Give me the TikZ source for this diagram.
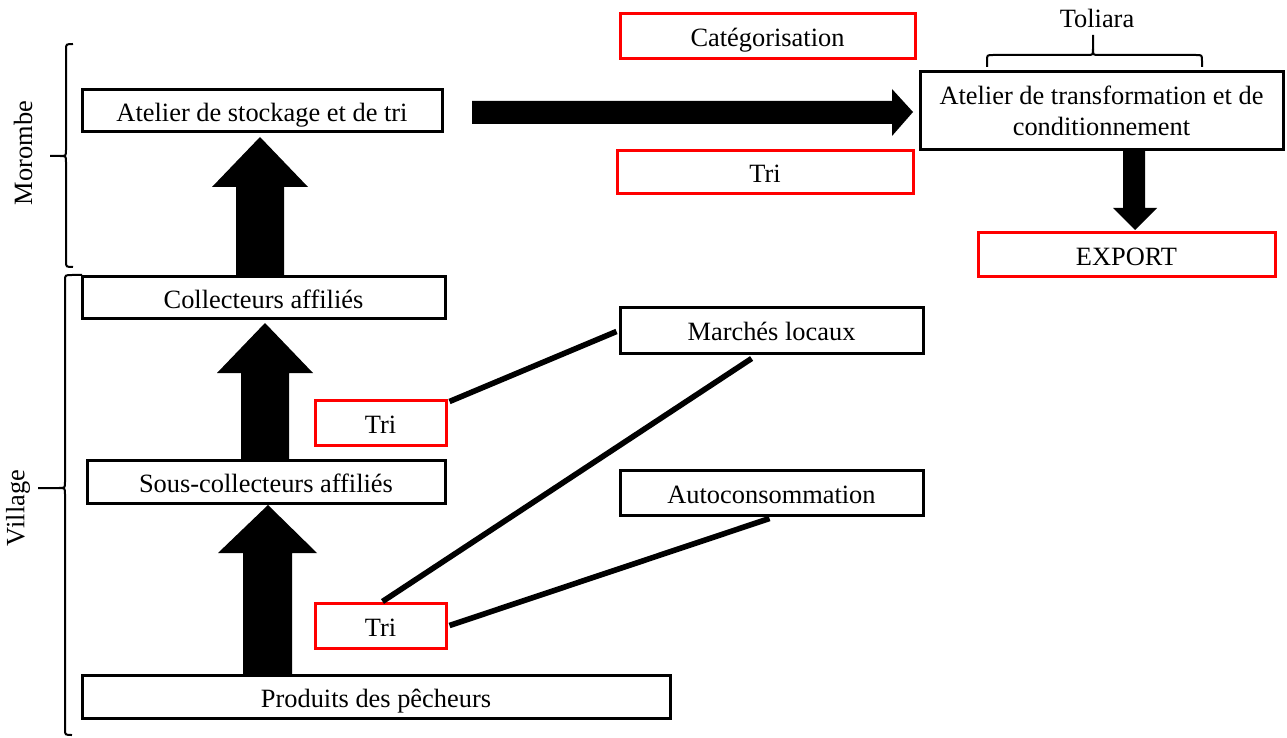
\documentclass[tikz,border=0pt]{standalone}
\usepackage{fontspec}
\setmainfont{Liberation Serif}
\usetikzlibrary{calc}
\begin{document}
\begin{tikzpicture}[x=0.5pt,y=-0.5pt,
  box/.style={draw=black,line width=1.5pt,rectangle,inner sep=0pt,font=\fontsize{13.2}{15.5}\selectfont,align=center,text height=11pt,text depth=0.5pt},
  redbox/.style={box,draw=red},
  conn/.style={line width=2.8pt},
  brk/.style={line width=1pt},
  lbl/.style={font=\fontsize{13.2}{15.5}\selectfont},
  blk/.style={fill=black}]
\useasboundingbox (0,0) rectangle (1287,738);
% boxes
\node[box,minimum width=180pt,minimum height=21pt] (stock) at (262,111) {Atelier de stockage et de tri};
\node[box,minimum width=181.5pt,minimum height=20.5pt] (coll) at (263.5,297.5) {Collecteurs affiliés};
\node[box,minimum width=179pt,minimum height=21.5pt] (sous) at (266,481.5) {Sous-collecteurs affiliés};
\node[box,minimum width=294pt,minimum height=21.5pt] (prod) at (376,696.5) {Produits des pêcheurs};
\node[redbox,minimum width=147.5pt,minimum height=22.5pt] (cat) at (767.5,36.5) {Catégorisation};
\node[redbox,minimum width=148pt,minimum height=21.5pt] (triA) at (765,172.5) {Tri};
\node[draw=black,line width=1.5pt,rectangle,inner sep=0pt,font=\fontsize{13.2}{15.5}\selectfont,align=center,minimum width=181.5pt,minimum height=39pt] (transf) at (1101.5,111) {Atelier de transformation et de\\conditionnement};
\node[redbox,minimum width=148.5pt,minimum height=22pt] (export) at (1126.5,255) {EXPORT};
\node[box,minimum width=151.5pt,minimum height=22.5pt] (marches) at (771.5,330.5) {Marchés locaux};
\node[redbox,minimum width=65.5pt,minimum height=22.5pt] (triB) at (380.5,422.5) {Tri};
\node[box,minimum width=151.5pt,minimum height=22.5pt] (auto) at (771.5,492.5) {Autoconsommation};
\node[redbox,minimum width=65.5pt,minimum height=22.5pt] (triC) at (380.5,625.5) {Tri};
% block arrows
\fill[blk] (236,276) -- (236,187) -- (212,187) -- (260,137) -- (308,187) -- (284,187) -- (284,276) -- cycle;
\fill[blk] (241,459) -- (241,373) -- (217,373) -- (265,323) -- (313,373) -- (289,373) -- (289,459) -- cycle;
\fill[blk] (243,674) -- (243,553) -- (218,553) -- (268,505) -- (317,553) -- (292,553) -- (292,674) -- cycle;
\fill[blk] (472,101) -- (892,101) -- (892,89) -- (913,112) -- (892,136) -- (892,124) -- (472,124) -- cycle;
\fill[blk] (1123,151) -- (1145,151) -- (1145,208) -- (1157,208) -- (1135,230) -- (1113,208) -- (1123,208) -- cycle;
% connectors
\coordinate (mb) at ($(marches.south west)!0.435!(marches.south east)+(0,4)$);
\draw[conn] ($(triB.north east)+(2,3)$) -- ($(marches.west)+(-2,1)$);
\draw[conn] (mb) -- ($(triC.north)+(2,0)$);
\draw[conn] ($(auto.south)+(-2,2)$) -- ($(triC.east)+(2,0)$);
% brackets
\draw[brk] (73,44) .. controls (66,44) .. (66,50) -- (66,150) .. controls (66,156) .. (60,156) -- (50,156);
\draw[brk] (60,156) .. controls (66,156) .. (66,162) -- (66,261) .. controls (66,267) .. (73,267);
\node[lbl,rotate=90] (morombe) at (23,153) {Morombe};
\draw[brk] (82,275) -- (72,275) .. controls (65,275) .. (65,281) -- (65,482) .. controls (65,488) .. (59,488) -- (38,488);
\draw[brk] (59,488) .. controls (65,488) .. (65,494) -- (65,729) .. controls (65,735) .. (72,735);
\node[lbl,rotate=90] (village) at (18,508) {Village};
\draw[brk] (987,67) -- (987,61) .. controls (987,55) .. (993,55) -- (1087,55) .. controls (1093,55) .. (1093,49) -- (1093,35);
\draw[brk] (1093,49) .. controls (1093,55) .. (1099,55) -- (1196,55) .. controls (1202,55) .. (1202,61) -- (1202,67);
\node[lbl] (toliara) at (1097,18) {Toliara};
\end{tikzpicture}
\end{document}
